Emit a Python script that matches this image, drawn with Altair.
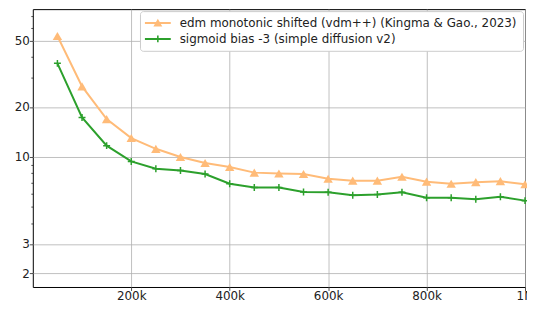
import altair as alt
import pandas as pd

steps = [50000, 100000, 150000, 200000, 250000, 300000, 350000, 400000, 450000, 500000,
         550000, 600000, 650000, 700000, 750000, 800000, 850000, 900000, 950000, 1000000]
orange_vals = [53.5, 26.6, 16.9, 13.0, 11.2, 10.0, 9.2, 8.7, 8.05, 7.95,
               7.9, 7.4, 7.2, 7.2, 7.6, 7.1, 6.9, 7.05, 7.15, 6.85]
green_vals = [36.6, 17.3, 11.7, 9.4, 8.5, 8.3, 7.9, 6.9, 6.55, 6.55,
              6.15, 6.13, 5.88, 5.95, 6.13, 5.69, 5.69, 5.56, 5.77, 5.46]
names = ["edm monotonic shifted (vdm++) (Kingma & Gao., 2023)",
         "sigmoid bias -3 (simple diffusion v2)"]
colors = ["#ffbb78", "#2ca02c"]

x_ticks = [200000, 400000, 600000, 800000, 1000000]
y_major = [2, 3, 10, 20, 50]
y_minor = [4, 5, 6, 7, 8, 9, 30, 40, 60, 70]

rows = []
for s, a, b in zip(steps, orange_vals, green_vals):
    rows.append({"step": s, "value": a, "series": names[0]})
    rows.append({"step": s, "value": b, "series": names[1]})
df = pd.DataFrame(rows)

FONT = "DejaVu Sans"
FS = 12
major_test = "indexof([" + ",".join(str(v) for v in y_major) + "], datum.value) >= 0"

xenc = alt.X("step:Q", title=None,
             scale=alt.Scale(domain=[0, 1000000], nice=False, zero=False),
             axis=alt.Axis(values=x_ticks, labelFlush=False,
                           labelExpr="datum.value >= 1000000 ? '1M' : (datum.value/1000) + 'k'"))
yenc = alt.Y("value:Q", title=None,
             scale=alt.Scale(type="log", domain=[1.65, 77.6], nice=False),
             axis=alt.Axis(values=y_major + y_minor, labelFlush=False,
                           labelExpr=major_test + " ? datum.value : ''",
                           gridColor={"condition": {"test": major_test, "value": "#b0b0b0"}, "value": "transparent"},
                           tickSize={"condition": {"test": major_test, "value": 3.5}, "value": 2}))

color_scale = alt.Scale(domain=names, range=colors)

base = alt.Chart(df)

# legend symbols: a short line with the series marker, as filled paths (unit = 6px)
legend_paths = [
    "M-2.17,-0.17H2.17V0.17H-2.17Z M0,-0.7L0.75,0.58L-0.75,0.58Z",
    "M-2.17,-0.17H2.17V0.17H-2.17Z M-0.13,-0.58H0.13V0.58H-0.13Z",
]
leg = alt.Legend(title=None, orient="top-right", offset=2,
                 symbolSize=144, symbolStrokeWidth=0, symbolOffset=6,
                 labelFont=FONT, labelFontSize=FS, labelColor="#222222",
                 labelLimit=600, labelOffset=16, padding=6, rowPadding=4,
                 fillColor="white", strokeColor="#cccccc", cornerRadius=3)

# invisible points that only carry the legend (listed first so its legend wins the merge)
legend_layer = base.mark_point(opacity=1, filled=True, size=0).encode(
    x=xenc, y=yenc,
    color=alt.Color("series:N", scale=color_scale, legend=leg),
    shape=alt.Shape("series:N", scale=alt.Scale(domain=names, range=legend_paths), legend=leg),
)

lines = base.mark_line(strokeWidth=2, opacity=1).encode(
    x=xenc, y=yenc,
    color=alt.Color("series:N", scale=color_scale, legend=None),
    order=alt.Order("step:Q"),
)

pts_orange = base.transform_filter(alt.datum.series == names[0]).mark_point(
    shape="triangle-up", filled=True, size=90, opacity=1
).encode(x=xenc, y=yenc, color=alt.Color("series:N", scale=color_scale, legend=None))

pts_green = base.transform_filter(alt.datum.series == names[1]).mark_point(
    shape="M-1,0H1M0,-1V1", filled=False, size=49, strokeWidth=1.5, opacity=1
).encode(x=xenc, y=yenc, color=alt.Color("series:N", scale=color_scale, legend=None))

chart = alt.layer(legend_layer, lines, pts_orange, pts_green).properties(
    width=496, height=280,
    autosize=alt.AutoSizeParams(type="none"),
    padding={"left": 25, "top": 0, "right": 2, "bottom": 16},
).configure_view(
    stroke="#000000", strokeWidth=1
).configure_axis(
    labelFont=FONT, labelFontSize=FS, labelColor="#222222",
    domain=False, tickColor="#222222", tickWidth=0.8, labelPadding=0,
    gridWidth=0.8,
).configure_axisX(gridColor="#b0b0b0", tickSize=3.5)

chart.save("out.html", embed_options={"renderer": "svg", "actions": False})
